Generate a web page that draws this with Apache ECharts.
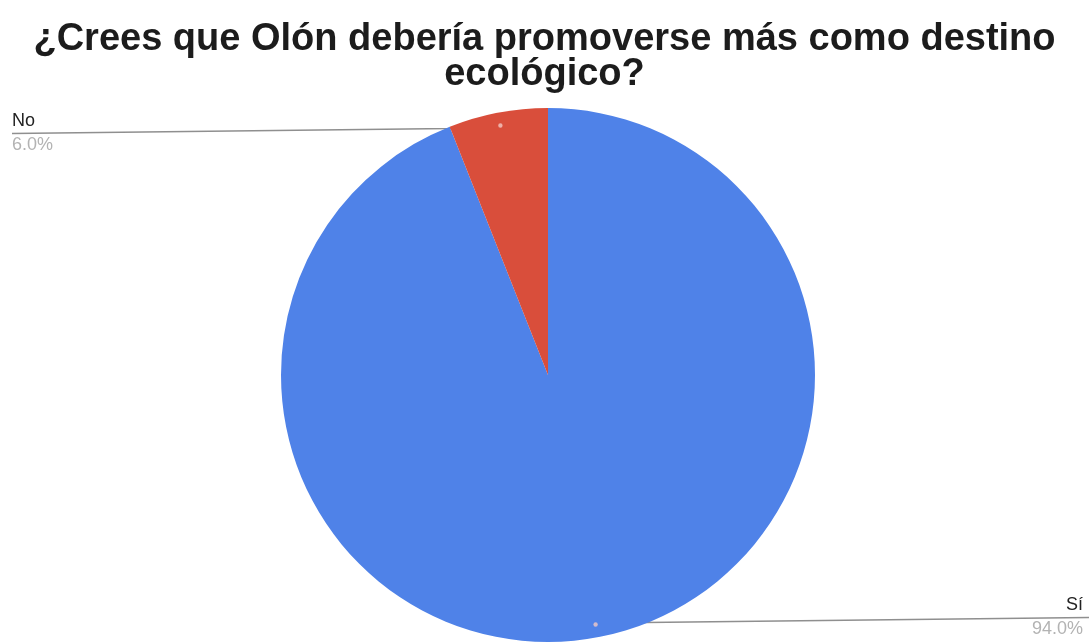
<!DOCTYPE html>
<html>
<head>
<meta charset="utf-8">
<script src="https://cdn.jsdelivr.net/npm/echarts@6/dist/echarts.min.js"></script>
<style>
  html, body { margin: 0; padding: 0; background: #ffffff; }
  #chart { width: 1089px; height: 644px; }
</style>
</head>
<body>
<div id="chart"></div>
<script>
// Survey answers and their shares (percent)
const categories = ['Sí', 'No'];
const shares = [94.0, 6.0];
const sliceColors = ['#4f82e8', '#d94e3b'];

const W = 1089;
const CX = 548, CY = 375, R = 267;
const INSET = 13; // leader lines start this far inside the slice rim

const chart = echarts.init(document.getElementById('chart'), null, { renderer: 'canvas' });

chart.setOption({
  backgroundColor: '#ffffff',
  animation: false,
  title: {
    text: '¿Crees que Olón debería promoverse más como destino\necológico?',
    left: 'center',
    top: 17,
    textStyle: {
      fontFamily: 'Liberation Sans, Arial, sans-serif',
      fontWeight: 'bold',
      fontSize: 38,
      lineHeight: 35,
      color: '#1c1c1c'
    }
  },
  series: [{
    type: 'pie',
    center: [CX, CY],
    radius: R,
    startAngle: 90,
    clockwise: true,
    avoidLabelOverlap: false,
    data: categories.map((name, i) => ({
      name,
      value: shares[i],
      itemStyle: { color: sliceColors[i] }
    })),
    itemStyle: { borderWidth: 0 },
    label: {
      show: true,
      position: 'outside',
      alignTo: 'edge',
      edgeDistance: 8,
      formatter: p => '{n|' + p.name + '}\n{v|' + p.value.toFixed(1) + '%}',
      rich: {
        n: { fontFamily: 'Liberation Sans, Arial, sans-serif', fontSize: 18, color: '#222222', lineHeight: 24 },
        v: { fontFamily: 'Liberation Sans, Arial, sans-serif', fontSize: 18, color: '#b3b3b3', lineHeight: 24 }
      }
    },
    labelLine: {
      show: true,
      length: 8,
      length2: 40,
      lineStyle: { color: '#8f8f8f', width: 1.5 }
    },
    labelLayout: function (params) {
      const pts = params.labelLinePoints;
      if (!pts) return {};
      const r = params.labelRect;
      const left = r.x + r.width / 2 < CX;
      // leader starts a little inside the slice, on its middle angle
      const dx = pts[0][0] - CX, dy = pts[0][1] - CY;
      const d = Math.sqrt(dx * dx + dy * dy);
      const inner = [CX + dx / d * (d - INSET), CY + dy / d * (d - INSET)];
      // then runs nearly flat out to the chart edge, between name and value
      const yLine = inner[1] + (left ? 8 : -7);
      const end = [left ? 12 : W, yLine];
      return {
        x: left ? 12 : W - 6,
        y: yLine,
        align: left ? 'left' : 'right',
        verticalAlign: 'middle',
        labelLinePoints: [inner, [inner[0] + (left ? -50 : 50), inner[1] + (left ? 3 : -2)], end]
      };
    },
    emphasis: { disabled: true }
  }]
});

// small anchor dots where each leader line meets its slice
const pieData = chart.getModel().getSeriesByIndex(0).getData();
const dots = [];
pieData.each(function (idx) {
  const lay = pieData.getItemLayout(idx);
  const mid = (lay.startAngle + lay.endAngle) / 2;
  const rr = lay.r - INSET;
  dots.push({
    type: 'circle',
    shape: { cx: lay.cx + Math.cos(mid) * rr, cy: lay.cy + Math.sin(mid) * rr, r: 2.2 },
    style: { fill: '#f2c9c4', opacity: 0.8 },
    silent: true,
    z: 100
  });
});
chart.setOption({ graphic: dots });
</script>
</body>
</html>
